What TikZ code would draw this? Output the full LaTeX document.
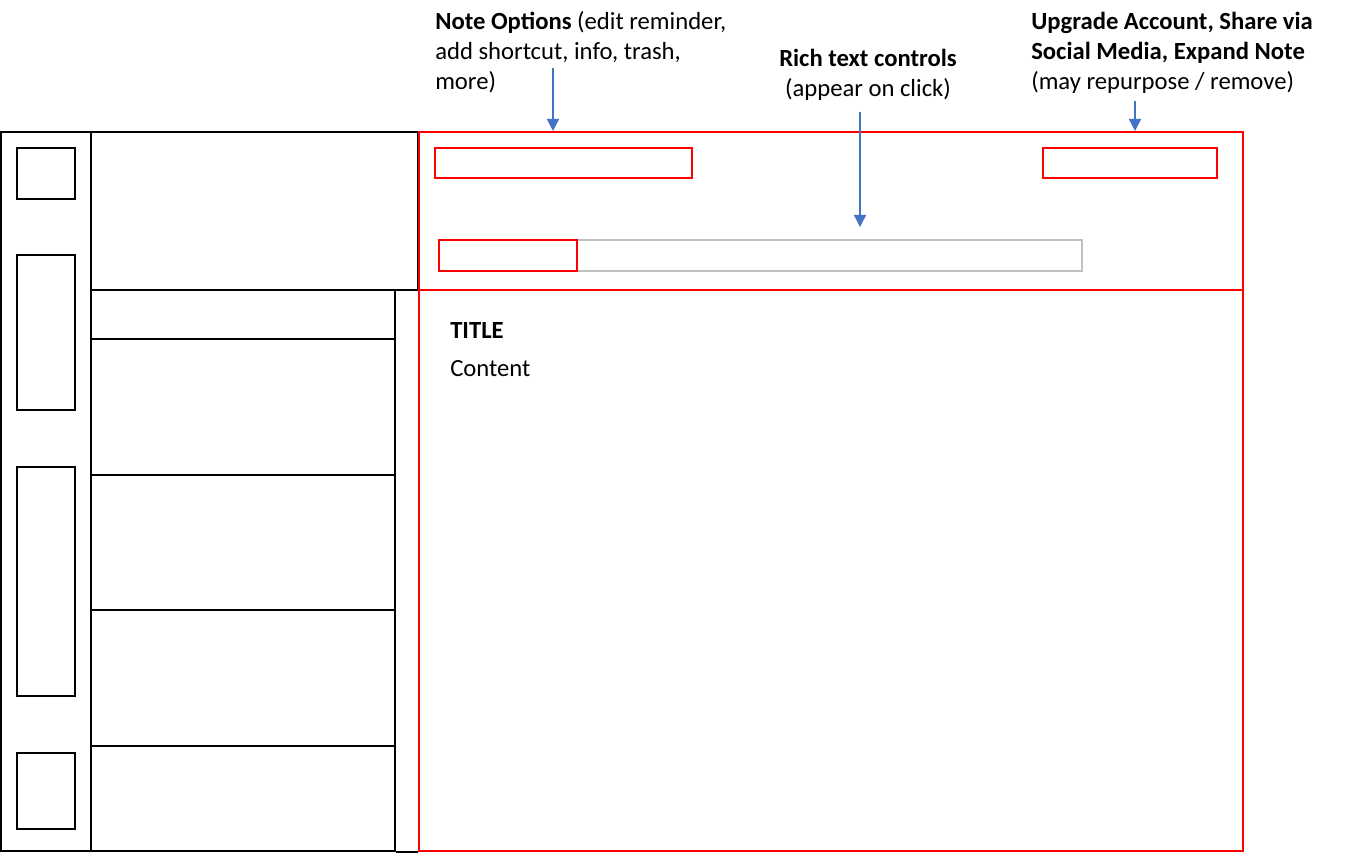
\documentclass[tikz,border=0pt]{standalone}
\usepackage{fontspec}
\setmainfont{Carlito}
\usetikzlibrary{arrows.meta,positioning,fit}
\definecolor{wirered}{RGB}{255,0,0}
\definecolor{wiregray}{RGB}{191,191,191}
\definecolor{calloutblue}{RGB}{68,114,196}

\tikzset{
  frame/.style={draw=black, line width=1.5pt, inner sep=0pt},
  redframe/.style={draw=wirered, line width=1.5pt, inner sep=0pt},
  grayframe/.style={draw=wiregray, line width=1.5pt, inner sep=0pt},
  callout/.style={draw=calloutblue, line width=1pt, -{Triangle[length=9pt,width=9pt]}},
  note/.style={inner sep=0pt, align=left, font=\fontsize{18.5}{22.5}\selectfont},
}

\begin{document}
\begin{tikzpicture}[x=0.75pt, y=-0.75pt]
  \useasboundingbox (0,0) rectangle (1358,852);

  % left navigation bar
  \node[frame, fit={(1,132) (91,851)}] (navbar) {};
  \node[frame, fit={(17,148) (75,199)}] (navtop) {};
  \node[frame, fit={(17,255) (75,410)}] (navmid) {};
  \node[frame, fit={(17,467) (75,696)}] (navlow) {};
  \node[frame, fit={(17,753) (75,829)}] (navbottom) {};

  % note list
  \node[frame, fit={(91,132) (418,290)}] (listhead) {};
  \node[frame, fit={(91,290) (395,339)}] (rowa) {};
  \node[frame, fit={(91,339) (395,475)}] (rowb) {};
  \node[frame, fit={(91,475) (395,610)}] (rowc) {};
  \node[frame, fit={(91,610) (395,746)}] (rowd) {};
  \node[frame, fit={(91,746) (395,851)}] (rowe) {};

  % editor
  \node[redframe, fit={(419,132) (1243,290)}] (header) {};
  \node[redframe, fit={(419,290) (1243,851)}] (editor) {};
  \draw[line width=1.5pt] (rowe.south east) -- (editor.south west);

  \node[redframe, fit={(435,148) (692,178)}] (options) {};
  \node[redframe, fit={(1043,148) (1217,178)}] (upgrade) {};
  \node[grayframe, fit={(577,240) (1082,271)}] (toolbar) {};
  \node[redframe, fit={(439,240) (577,271)}] (toolstart) {};

  \node[note, anchor=base west] (titletext) at (450,338) {\textbf{TITLE}};
  \node[note, anchor=base west] (contenttext) at (450,376) {Content};

  % callouts
  \node[note, anchor=base west] (optslabel) at (435,90)
    {\textbf{Note Options} (edit reminder,\\add shortcut, info, trash,\\more)};
  \node[note, align=center, anchor=base] (richlabel) at (868,97)
    {\textbf{Rich text controls}\\(appear on click)};
  \node[note, anchor=base west] (upgradelabel) at (1031,90)
    {\textbf{Upgrade Account, Share via}\\\textbf{Social Media, Expand Note}\\(may repurpose / remove)};

  \coordinate (optsfrom) at (553,68);
  \coordinate (richfrom) at (860,112);
  \coordinate (richto) at (860,227);
  \coordinate (upgradefrom) at (1135,101);

  \draw[callout] (optsfrom) -- (optsfrom |- header.north);
  \draw[callout] (richfrom) -- (richto);
  \draw[callout] (upgradefrom) -- (upgradefrom |- header.north);
\end{tikzpicture}
\end{document}
